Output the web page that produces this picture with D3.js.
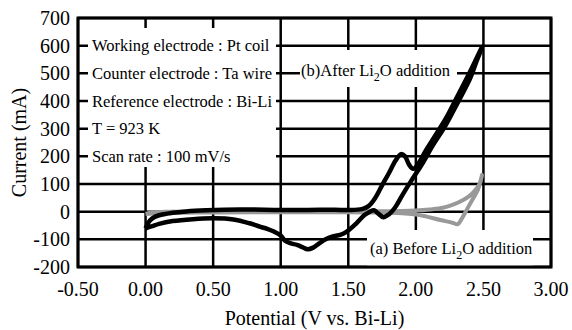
<!DOCTYPE html>
<html>
<head>
<meta charset="utf-8">
<script src="https://cdn.jsdelivr.net/npm/d3@7"></script>
<style>
  body { margin: 0; background: #fff; }
</style>
</head>
<body>
<div id="chart"></div>
<script>
var xTicks = [-0.5, 0, 0.5, 1.0, 1.5, 2.0, 2.5, 3.0];
var yTicks = [-200, -100, 0, 100, 200, 300, 400, 500, 600, 700];

var conditions = ["Working electrode : Pt coil", "Counter electrode : Ta wire",
                  "Reference electrode : Bi-Li", "T = 923 K", "Scan rate : 100 mV/s"];
var conditionRows = [600, 500, 400, 300, 200];

// (b) after Li2O addition - [potential V, current mA]
var afterLi2O = [
  [0.00,-60],[0.02,-40],[0.05,-24],[0.10,-13],[0.20,-4],[0.30,1],[0.45,5],[0.70,8],
  [1.00,6],[1.20,6],[1.40,7],[1.50,6],[1.60,9],[1.65,20],[1.70,50],[1.75,95],
  [1.80,139],[1.85,185],[1.89,208],[1.92,200],[1.95,170],[1.98,155],[2.02,175],
  [2.07,218],[2.15,280],[2.22,335],[2.30,410],[2.40,505],[2.49,595],
  [2.45,545],[2.40,480],[2.30,385],[2.22,312],[2.12,235],[2.05,175],[1.97,115],
  [1.90,60],[1.85,18],[1.80,-10],[1.76,-20],[1.72,-6],[1.69,5],[1.66,0],[1.62,-12],
  [1.56,-42],[1.48,-75],[1.44,-84],[1.38,-90],[1.34,-98],[1.28,-116],[1.24,-130],
  [1.20,-136],[1.16,-128],[1.12,-120],[1.07,-114],[1.03,-104],[1.00,-86],[0.95,-72],
  [0.90,-62],[0.85,-55],[0.77,-42],[0.65,-28],[0.50,-24],[0.35,-27],[0.20,-34],
  [0.10,-44],[0.05,-52],[0.00,-60]
];

// (a) before Li2O addition
var beforeLi2O = [
  [0.00,-8],[0.05,-3],[0.15,0],[0.40,1],[1.00,1],[1.50,1],[1.90,2],[2.00,4],
  [2.10,8],[2.20,14],[2.28,26],[2.35,42],[2.40,58],[2.44,78],[2.47,100],[2.49,133],
  [2.46,80],[2.42,45],[2.38,10],[2.34,-25],[2.31,-45],[2.27,-40],[2.18,-30],
  [2.08,-18],[2.00,-10],[1.80,-4],[1.40,-2],[1.00,-2],[0.50,-3],[0.20,-4],
  [0.05,-7],[0.00,-8]
];

var width = 572, height = 330;
var margin = {top: 18, right: 21, bottom: 63, left: 78};
var serif = "'Liberation Serif', 'Times New Roman', serif";

var svg = d3.select("#chart").append("svg")
    .attr("width", width)
    .attr("height", height)
    .attr("font-family", serif);

var x = d3.scaleLinear().domain([-0.5, 3.0]).range([margin.left, width - margin.right]);
var y = d3.scaleLinear().domain([-200, 700]).range([height - margin.bottom, margin.top]);

// grid
var grid = svg.append("g");
grid.selectAll(".hgrid").data(yTicks).enter().append("line")
    .attr("x1", x(-0.5)).attr("x2", x(3.0))
    .attr("y1", function(d) { return y(d); }).attr("y2", function(d) { return y(d); })
    .attr("stroke", "#000").attr("stroke-width", 2.5);
grid.selectAll(".vgrid").data(xTicks).enter().append("line")
    .attr("y1", y(-200)).attr("y2", y(700))
    .attr("x1", function(d) { return x(d); }).attr("x2", function(d) { return x(d); })
    .attr("stroke", "#000").attr("stroke-width", 2.5);

// tick labels
svg.append("g").selectAll("text").data(yTicks).enter().append("text")
    .attr("x", margin.left - 8)
    .attr("y", function(d) { return y(d); })
    .attr("dy", "0.35em")
    .attr("text-anchor", "end")
    .attr("font-size", 20)
    .text(function(d) { return d; });

svg.append("g").selectAll("text").data(xTicks).enter().append("text")
    .attr("x", function(d) { return x(d); })
    .attr("y", 296)
    .attr("text-anchor", "middle")
    .attr("font-size", 20)
    .text(function(d) { return d.toFixed(2); });

svg.append("text")
    .attr("x", (x(-0.5) + x(3.0)) / 2)
    .attr("y", 325)
    .attr("text-anchor", "middle")
    .attr("font-size", 20)
    .text("Potential (V vs. Bi-Li)");

svg.append("text")
    .attr("transform", "translate(26," + ((y(-200) + y(700)) / 2) + ") rotate(-90)")
    .attr("text-anchor", "middle")
    .attr("font-size", 20)
    .text("Current (mA)");

// curves
var line = d3.line()
    .x(function(d) { return x(d[0]); })
    .y(function(d) { return y(d[1]); })
    .curve(d3.curveCatmullRom.alpha(0.5));

svg.append("path").datum(beforeLi2O)
    .attr("d", line)
    .attr("fill", "none")
    .attr("stroke", "#999")
    .attr("stroke-width", 4)
    .attr("stroke-linejoin", "round");

svg.append("path").datum(afterLi2O)
    .attr("d", line)
    .attr("fill", "none")
    .attr("stroke", "#000")
    .attr("stroke-width", 4.5)
    .attr("stroke-linejoin", "round");

// conditions box
svg.append("rect")
    .attr("x", 88).attr("y", 28).attr("width", 188).attr("height", 139)
    .attr("fill", "#fff");
svg.append("g").selectAll("text").data(conditions).enter().append("text")
    .attr("x", 92)
    .attr("y", function(d, i) { return y(conditionRows[i]) + 5.5; })
    .attr("font-size", 16.5)
    .text(function(d) { return d; });

// curve labels
function labelBox(x0, y0, w, h, tx, ty, before) {
  svg.append("rect").attr("x", x0).attr("y", y0).attr("width", w).attr("height", h)
      .attr("fill", "#fff");
  var t = svg.append("text").attr("x", tx).attr("y", ty).attr("font-size", 16.5);
  t.append("tspan").text(before);
  t.append("tspan").attr("dy", 5).attr("font-size", 12).text("2");
  t.append("tspan").attr("dy", -5).text("O addition");
}
labelBox(300, 50, 157, 37, 301, 76, "(b)After Li");
labelBox(367, 230, 166, 36, 370, 254, "(a) Before Li");

// frame
svg.append("rect")
    .attr("x", x(-0.5)).attr("y", y(700))
    .attr("width", x(3.0) - x(-0.5)).attr("height", y(-200) - y(700))
    .attr("fill", "none").attr("stroke", "#000").attr("stroke-width", 3);
</script>
</body>
</html>
